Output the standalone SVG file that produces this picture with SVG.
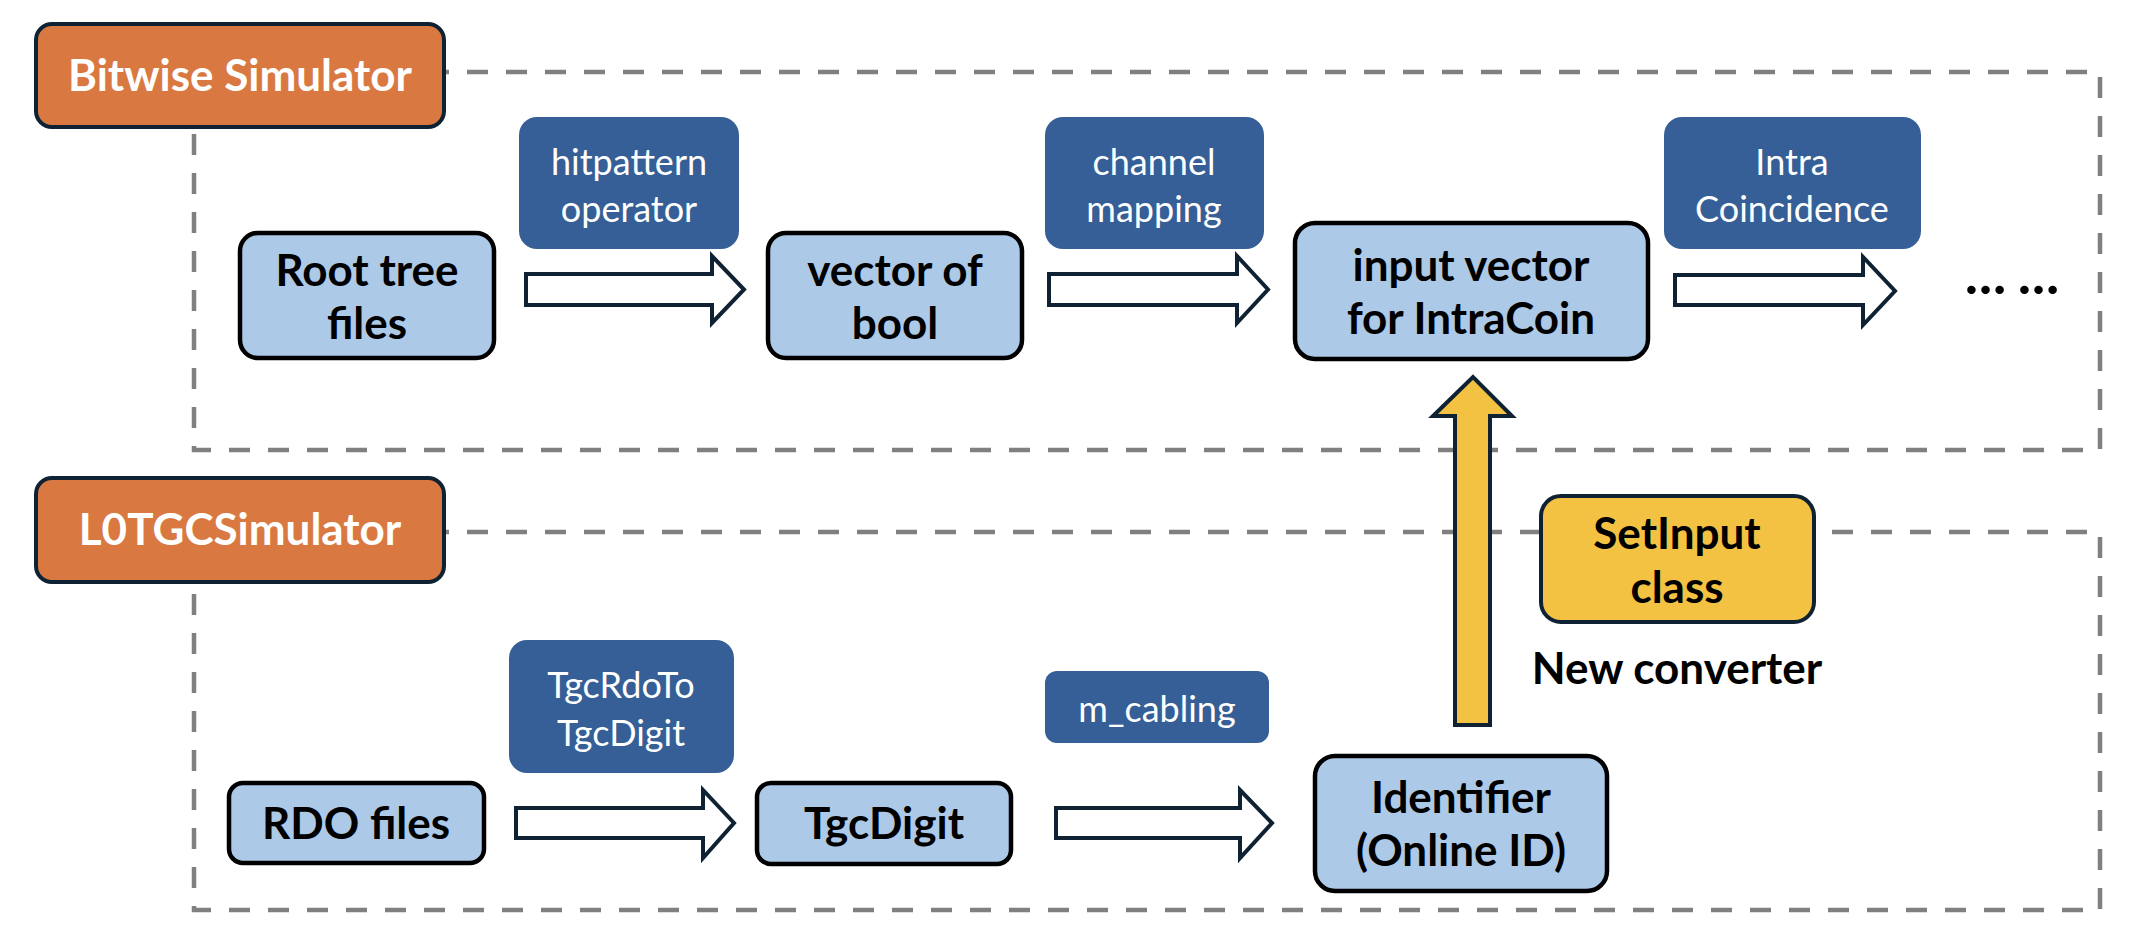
<svg xmlns="http://www.w3.org/2000/svg" width="2142" height="950" viewBox="0 0 2142 950">
<style>
.frame{fill:none;stroke:#808080;stroke-width:4.5;stroke-dasharray:21 18}
.title{fill:#D97941;stroke:#0E2233;stroke-width:4}
.op{fill:#355F96}
.data{fill:#ADC9E8;stroke:#000;stroke-width:4.5}
.conv{fill:#F4C242;stroke:#0E2233;stroke-width:4}
.arr{fill:#fff;stroke:#0E2233;stroke-width:4}
.yarr{fill:#F4C242;stroke:#0E2233;stroke-width:4}
text{font-family:Lato,"Noto Sans","Liberation Sans",sans-serif;text-anchor:middle}
.tt{fill:#fff;font-weight:bold;font-size:44px}
.ot{fill:#fff;font-size:36px}
.dt{fill:#000;font-weight:bold;font-size:44px}
.el{fill:#000;font-weight:900;font-size:52px}
</style>
<g id="frames">
<rect class="frame" x="194" y="72" width="1906" height="378"/>
<rect class="frame" x="194" y="532" width="1906" height="378"/>
</g>
<g id="bitwise-title"><rect class="title" x="36" y="24" width="408" height="103" rx="16"/><text class="tt" x="240" y="91">Bitwise Simulator</text></g>
<g id="l0tgc-title"><rect class="title" x="36" y="478" width="408" height="104" rx="16"/><text class="tt" x="240" y="545">L0TGCSimulator</text></g>
<g id="connectors">
<polygon class="arr" points="526,274 712,274 712,256 744,289.5 712,323 712,305 526,305"/>
<polygon class="arr" points="1049,274 1237,274 1237,256 1268,289.5 1237,323 1237,305 1049,305"/>
<polygon class="arr" points="1675,275 1863,275 1863,257 1895,291 1863,325 1863,305 1675,305"/>
<polygon class="arr" points="516,808 703,808 703,790 734,823 703,858 703,838 516,838"/>
<polygon class="arr" points="1056,808 1240,808 1240,790 1272,823 1240,858 1240,838 1056,838"/>
<polygon class="yarr" points="1455,725 1455,416 1433,416 1473,377 1512,416 1490,416 1490,725"/>
</g>
<g id="hitpattern"><rect class="op" x="519" y="117" width="220" height="132" rx="18"/><text class="ot" x="629" y="175">hitpattern</text><text class="ot" x="629" y="222">operator</text></g>
<g id="channel-mapping"><rect class="op" x="1045" y="117" width="219" height="132" rx="18"/><text class="ot" x="1154" y="175">channel</text><text class="ot" x="1154" y="222">mapping</text></g>
<g id="intra-coincidence"><rect class="op" x="1664" y="117" width="257" height="132" rx="18"/><text class="ot" x="1792" y="175">Intra</text><text class="ot" x="1792" y="222">Coincidence</text></g>
<g id="root-tree"><rect class="data" x="240" y="233" width="254" height="125" rx="18"/><text class="dt" x="367" y="286">Root tree</text><text class="dt" x="367" y="339">files</text></g>
<g id="vector-bool"><rect class="data" x="768" y="233" width="254" height="125" rx="18"/><text class="dt" x="895" y="286">vector of</text><text class="dt" x="895" y="339">bool</text></g>
<g id="input-vector"><rect class="data" x="1295" y="223" width="353" height="136" rx="20"/><text class="dt" x="1471" y="281">input vector</text><text class="dt" x="1471" y="334">for IntraCoin</text></g>
<g id="ellipsis"><text class="el" x="2012" y="294">… …</text></g>
<g id="tgcrdo"><rect class="op" x="509" y="640" width="225" height="133" rx="18"/><text class="ot" x="621" y="698">TgcRdoTo</text><text class="ot" x="621" y="746">TgcDigit</text></g>
<g id="m-cabling"><rect class="op" x="1045" y="671" width="224" height="72" rx="12"/><text class="ot" x="1157" y="722">m_cabling</text></g>
<g id="rdo-files"><rect class="data" x="229" y="783" width="255" height="80" rx="14"/><text class="dt" x="356" y="839">RDO files</text></g>
<g id="tgcdigit"><rect class="data" x="757" y="783" width="254" height="81" rx="14"/><text class="dt" x="884" y="839">TgcDigit</text></g>
<g id="identifier"><rect class="data" x="1315" y="756" width="292" height="135" rx="20"/><text class="dt" x="1461" y="813">Identifier</text><text class="dt" x="1461" y="866">(Online ID)</text></g>
<g id="setinput"><rect class="conv" x="1541" y="496" width="273" height="126" rx="20"/><text class="dt" x="1677" y="549">SetInput</text><text class="dt" x="1677" y="603">class</text></g>
<g id="new-converter"><text class="dt" x="1677" y="684">New converter</text></g>
</svg>
